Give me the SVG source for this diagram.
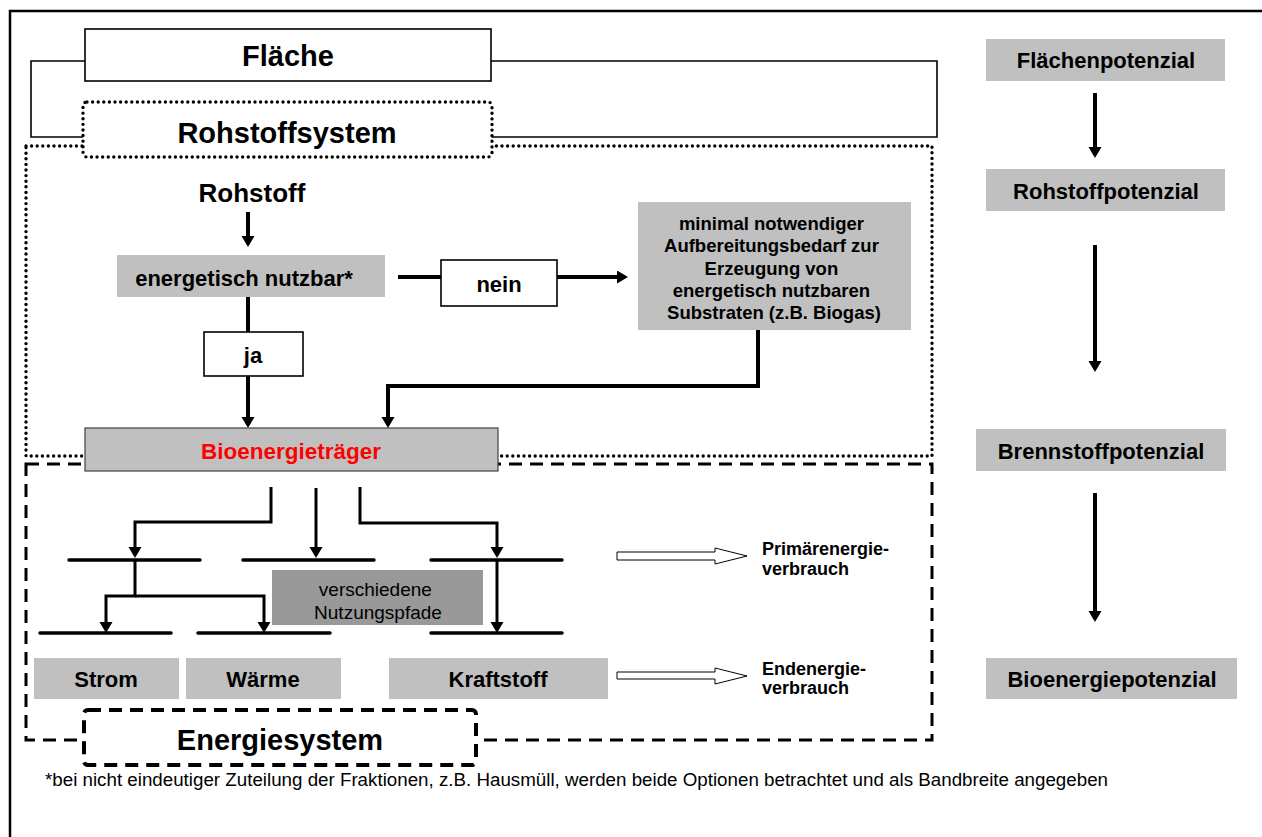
<svg xmlns="http://www.w3.org/2000/svg" width="1262" height="837" viewBox="0 0 1262 837">
<defs>
<marker id="ah" markerUnits="userSpaceOnUse" markerWidth="14" markerHeight="14" refX="8" refY="6.5" orient="auto">
<path d="M0,0 L11,6.5 L0,13 z" fill="#000"/>
</marker>
<style>
text{font-family:"Liberation Sans",Arial,sans-serif;fill:#000}
.b{font-weight:bold}
.m{text-anchor:middle}
.grey{fill:#c0c0c0;stroke:none}
.conn{fill:none;stroke:#000;stroke-linejoin:miter}
.a4{stroke-width:4}
.a3{stroke-width:3}
.bar{stroke:#000;stroke-width:3.5;stroke-linecap:round;fill:none}
.hollow{fill:#fff;stroke:#000;stroke-width:1}
.dot{stroke:#000;stroke-width:3.4;stroke-dasharray:0 5.6;stroke-linecap:round}
</style>
</defs>
<rect x="0" y="0" width="1262" height="837" fill="#fff"/>
<path d="M1262,11 H10 V837" fill="none" stroke="#000" stroke-width="2.5"/>

<g id="regions">
<rect class="dot" x="26" y="146" width="906" height="310" fill="none"/>
<rect x="26" y="464" width="906" height="276" fill="none" stroke="#000" stroke-width="3" stroke-dasharray="13 8"/>
</g>

<g id="bracket">
<path d="M85,61 H31 V137 H83 M491,61 H937 V137 H492" fill="none" stroke="#000" stroke-width="1.6"/>
</g>

<g id="connectors">
<path class="conn a4" d="M248,212 V244" marker-end="url(#ah)"/>
<path class="conn a4" d="M248,297 V332"/>
<path class="conn a4" d="M248,376 V425" marker-end="url(#ah)"/>
<path class="conn a4" d="M398,277 H441"/>
<path class="conn a4" d="M557,277 H625" marker-end="url(#ah)"/>
<path class="conn a4" d="M758,330 V386 H388 V425" marker-end="url(#ah)"/>
<path class="conn a3" d="M271,487 V522 H135 V555" marker-end="url(#ah)"/>
<path class="conn a3" d="M316,488 V555" marker-end="url(#ah)"/>
<path class="conn a3" d="M360,487 V523 H497 V555" marker-end="url(#ah)"/>
<path class="conn a3" d="M135,560 V596 H106 V630" marker-end="url(#ah)"/>
<path class="conn a3" d="M135,596 H264 V630" marker-end="url(#ah)"/>
<path class="conn a3" d="M497,560 V630" marker-end="url(#ah)"/>
<path class="conn a4" d="M1095,93 V155" marker-end="url(#ah)"/>
<path class="conn a4" d="M1095,245 V369" marker-end="url(#ah)"/>
<path class="conn a4" d="M1095,493 V619" marker-end="url(#ah)"/>
<polygon class="hollow" points="617,552 715,552 715,548 747,556 715,564 715,560 617,560"/>
<polygon class="hollow" points="617,672 715,672 715,668 747,676 715,684 715,679 617,679"/>
</g>

<g id="bars">
<path class="bar" d="M69,560 H200 M243,560 H374 M431,560 H562 M40,633 H171 M198,633 H330 M431,633 H562"/>
</g>

<g id="flaeche">
<rect x="85" y="29" width="406" height="52" fill="#fff" stroke="#000" stroke-width="1.6"/>
<text class="b m" x="288" y="66" font-size="29">Fläche</text>
</g>

<g id="rohstoffsystem">
<rect class="dot" x="83" y="102" width="409" height="55" rx="4" fill="#fff"/>
<text class="b m" x="287" y="143" font-size="29">Rohstoffsystem</text>
</g>

<g id="rohstoff">
<text class="b m" x="252" y="202" font-size="26">Rohstoff</text>
</g>

<g id="nutzbar">
<rect class="grey" x="117" y="255" width="268" height="42"/>
<text class="b m" x="244" y="286" font-size="22">energetisch nutzbar*</text>
</g>

<g id="ja">
<rect x="204" y="332" width="99" height="44" fill="#fff" stroke="#000" stroke-width="1.6"/>
<text class="b m" x="253" y="363" font-size="22">ja</text>
</g>

<g id="nein">
<rect x="441" y="260" width="116" height="46" fill="#fff" stroke="#000" stroke-width="1.6"/>
<text class="b m" x="499" y="292" font-size="22">nein</text>
</g>

<g id="aufbereitung">
<rect class="grey" x="638" y="202" width="273" height="128"/>
<text class="b m" font-size="18.5">
<tspan x="774" y="230">minimal notwendiger</tspan>
<tspan x="774" y="252">Aufbereitungsbedarf zur</tspan>
<tspan x="774" y="274.5">Erzeugung von</tspan>
<tspan x="774" y="296.5">energetisch nutzbaren</tspan>
<tspan x="774" y="319">Substraten (z.B. Biogas)</tspan>
</text>
</g>

<g id="bioenergietraeger">
<rect x="85" y="428" width="413" height="43" fill="#c0c0c0" stroke="#404040" stroke-width="1.2"/>
<text class="b m" x="291" y="459" font-size="22.5" style="fill:#ff0000">Bioenergieträger</text>
</g>

<g id="nutzungspfade">
<rect x="272" y="570" width="211" height="55" fill="#999999"/>
<text class="m" font-size="19">
<tspan x="378" y="596">verschiedene</tspan>
<tspan x="378" y="619">Nutzungspfade</tspan>
</text>
</g>

<g id="strom">
<rect class="grey" x="34" y="658" width="145" height="41"/>
<text class="b m" x="106" y="687" font-size="22">Strom</text>
</g>
<g id="waerme">
<rect class="grey" x="186" y="658" width="155" height="41"/>
<text class="b m" x="263" y="687" font-size="22">Wärme</text>
</g>
<g id="kraftstoff">
<rect class="grey" x="389" y="658" width="219" height="41"/>
<text class="b m" x="498" y="687" font-size="22">Kraftstoff</text>
</g>

<g id="primaer">
<text class="b" font-size="18">
<tspan x="762" y="555">Primärenergie-</tspan>
<tspan x="762" y="575">verbrauch</tspan>
</text>
</g>
<g id="endenergie">
<text class="b" font-size="18">
<tspan x="762" y="675">Endenergie-</tspan>
<tspan x="762" y="694">verbrauch</tspan>
</text>
</g>

<g id="energiesystem">
<rect x="84" y="710" width="392" height="55" rx="4" fill="#fff" stroke="#000" stroke-width="4" stroke-dasharray="13 8"/>
<text class="b m" x="280" y="750" font-size="29">Energiesystem</text>
</g>

<g id="flaechenpotenzial">
<rect class="grey" x="986" y="39" width="239" height="42"/>
<text class="b m" x="1106" y="68" font-size="22">Flächenpotenzial</text>
</g>
<g id="rohstoffpotenzial">
<rect class="grey" x="986" y="169" width="239" height="42"/>
<text class="b m" x="1106" y="199" font-size="22">Rohstoffpotenzial</text>
</g>
<g id="brennstoffpotenzial">
<rect class="grey" x="976" y="429" width="250" height="42"/>
<text class="b m" x="1101" y="459" font-size="22">Brennstoffpotenzial</text>
</g>
<g id="bioenergiepotenzial">
<rect class="grey" x="986" y="658" width="251" height="41"/>
<text class="b m" x="1112" y="687" font-size="22">Bioenergiepotenzial</text>
</g>

<g id="footnote">
<text x="45" y="786" font-size="17.5" textLength="1063" lengthAdjust="spacingAndGlyphs">*bei nicht eindeutiger Zuteilung der Fraktionen, z.B. Hausmüll, werden beide Optionen betrachtet und als Bandbreite angegeben</text>
</g>
</svg>
